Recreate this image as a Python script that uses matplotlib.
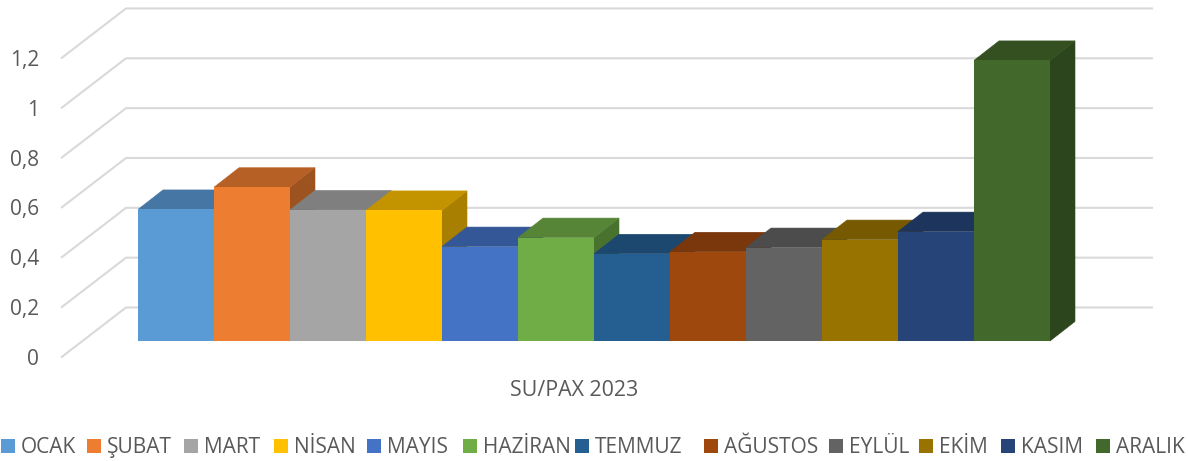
import matplotlib
matplotlib.use('Agg')
import matplotlib.pyplot as plt
from matplotlib.colors import to_rgb
from matplotlib.patches import Polygon, Rectangle

months = ['OCAK', 'ŞUBAT', 'MART', 'NİSAN', 'MAYIS', 'HAZİRAN', 'TEMMUZ', 'AĞUSTOS', 'EYLÜL', 'EKİM', 'KASIM', 'ARALIK']
values = [0.528, 0.617, 0.526, 0.524, 0.379, 0.415, 0.35, 0.358, 0.375, 0.407, 0.439, 1.126]
colors = ['#5B9BD5', '#ED7D31', '#A5A5A5', '#FFC000', '#4472C4', '#70AD47', '#255E91', '#9E480E', '#636363', '#997300', '#264478', '#43682B']
tick_values = [0, 0.2, 0.4, 0.6, 0.8, 1, 1.2]
tick_labels = ['0', '0,2', '0,4', '0,6', '0,8', '1', '1,2']
title = 'SU/PAX 2023'

# layout in pixels of the 1188x461 picture
W, H = 1188, 461
BAR_X0, BAR_W, BASE_Y = 138, 76, 341
PX_PER_UNIT = 249.2
legend_x = [1, 87, 184, 274, 367, 463, 575, 704, 829, 919, 1001, 1096]

fig = plt.figure(figsize=(W / 100, H / 100), dpi=100)
plt.rcParams['font.family'] = ['Open Sans', 'DejaVu Sans']
ax = fig.add_axes([0, 0, 1, 1])
ax.set_xlim(-BAR_X0 / BAR_W, (W - BAR_X0) / BAR_W)
ax.set_ylim((BASE_Y - H) / PX_PER_UNIT, BASE_Y / PX_PER_UNIT)
ax.axis('off')


# Pixel position to data position
def px(x, y):
    return (x - BAR_X0) / BAR_W, (BASE_Y - y) / PX_PER_UNIT


def shade(color, factor):
    return tuple(c * factor for c in to_rgb(color))


# Gridlines: slanted floor part, then along the back wall
for v in tick_values:
    back_y = 307.5 - PX_PER_UNIT * v
    xs, ys = zip(px(61, back_y + 50), px(126, back_y), px(1153, back_y))
    ax.plot(xs, ys, color='#D9D9D9', lw=1.5, zorder=1, solid_capstyle='butt')

for v, label in zip(tick_values, tick_labels):
    x, y = px(39, 365 - PX_PER_UNIT * v)
    ax.text(x, y, label, ha='right', va='baseline', fontsize=15, color='#595959')

# Bars, left to right so that each one covers the side of the one before
dx, dy = 25 / BAR_W, 19.5 / PX_PER_UNIT
for i, (v, c) in enumerate(zip(values, colors)):
    z = 2 + i
    side = [(i + 1, 0), (i + 1 + dx, dy), (i + 1 + dx, v + dy), (i + 1, v)]
    top = [(i, v), (i + dx, v + dy), (i + 1 + dx, v + dy), (i + 1, v)]
    ax.add_patch(Polygon(side, closed=True, fc=shade(c, 0.66), ec=shade(c, 0.66), lw=0.4, zorder=z))
    ax.add_patch(Polygon(top, closed=True, fc=shade(c, 0.77), ec=shade(c, 0.77), lw=0.4, zorder=z))
    ax.bar(i + 0.5, v, width=1, color=c, zorder=z)

x, y = px(574, 396)
ax.text(x, y, title, ha='center', va='baseline', fontsize=15.4, color='#595959')

# Legend
for name, c, lx in zip(months, colors, legend_x):
    x, y = px(lx, 453)
    ax.add_patch(Rectangle((x, y), 14 / BAR_W, 14 / PX_PER_UNIT, fc=c, ec='none', zorder=2))
    x, y = px(lx + 20, 453)
    ax.text(x, y, name, ha='left', va='baseline', fontsize=15, color='#595959')

fig.savefig('out.png', dpi=100)
